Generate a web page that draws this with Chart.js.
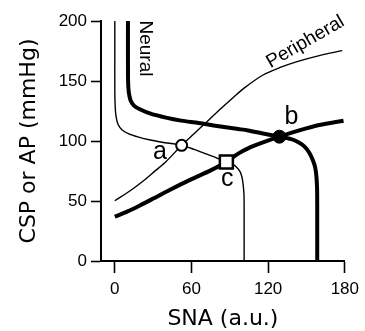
<!DOCTYPE html>
<html><head><meta charset="utf-8">
<script src="https://cdn.jsdelivr.net/npm/chart.js@4/dist/chart.umd.min.js"></script>
<style>html,body{margin:0;padding:0;background:#fff}#wrap{width:365px;height:331px}</style>
</head><body><div id="wrap"><canvas id="c" width="365" height="331"></canvas></div>
<script>
// ---- data ----
const xTicks = [0, 60, 120, 180];
const yTicks = [0, 50, 100, 150, 200];
const xTitle = 'SNA (a.u.)';
const yTitle = 'CSP or AP (mmHg)';
const curveNames = ['Neural', 'Peripheral'];

// [SNA, pressure]
const neuralThin = [[0,201],[0,170],[0,145],[0.2,132],[0.8,122],[2.5,114],[6,109],[11,106],[18,103.5],[27,101],[37,99],[52.3,96.4],[62,93],[72,89],[80,85.8],[87.3,82.5],[92.5,80.5],[95.5,78],[98,74.5],[99.5,70],[100.5,63],[101.1,55],[101.2,40],[101.2,0]];
const neuralThick = [[10.3,201],[10.3,170],[10.4,150],[10.9,141],[12.3,134],[15,129.5],[20,126.2],[28,122.8],[40,119.5],[52,117],[65.7,115],[80,112.5],[96.6,110],[104.3,108.8],[115,106.5],[128.8,103.6],[138,101.5],[144,98.8],[148.5,95.3],[152.3,90],[155,84],[156.8,78],[157.8,70],[158.3,60],[158.4,45],[158.4,0]];
const peripheralThin = [[0,50.2],[12.9,59.2],[23.2,67.5],[32,75.5],[40,82.7],[52.3,96.4],[62,106],[71.5,115.5],[82,126],[92.9,136.5],[101.7,144.5],[116,155],[130,161.5],[142,166],[160,171.2],[178,175.3]];
const peripheralThick = [[0,36.9],[10,41.3],[20,46.5],[30,52],[42.5,59],[59.3,67.8],[75,75.5],[87.3,82.5],[96.6,89.5],[104.3,93.9],[116,98.8],[128.8,103.6],[145,109],[160,113.3],[179,116.9]];

// equilibrium points a, b, c
const eqLabels = ['a', 'b', 'c'];
const eqSNA = [52.3, 128.8, 87.3];
const eqPressure = [96.4, 103.6, 82.5];

// ---- chart ----
const toXY = arr => arr.map(p => ({x: p[0], y: p[1]}));
const line = (arr, w) => ({data: toXY(arr), showLine: true, borderColor: '#000', borderWidth: w,
  pointRadius: 0, tension: 0.3, fill: false});
const marker = (i, style, r, bg, bw) => ({label: eqLabels[i], data: [{x: eqSNA[i], y: eqPressure[i]}],
  showLine: false, pointStyle: style, pointRadius: r, backgroundColor: bg, borderColor: '#000', borderWidth: bw});

const labelPlugin = {
  id: 'textLabels',
  afterDatasetsDraw(chart, args, opts) {
    const {ctx, scales: {x, y}} = chart;
    ctx.save();
    ctx.fillStyle = '#000';
    ctx.textAlign = 'center';
    ctx.textBaseline = 'middle';
    for (const it of opts.items) {
      ctx.save();
      ctx.translate(x.getPixelForValue(it.x) + (it.dx || 0), y.getPixelForValue(it.y) + (it.dy || 0));
      ctx.rotate((it.rot || 0) * Math.PI / 180);
      ctx.font = it.font;
      ctx.fillText(it.text, 0, 0);
      ctx.restore();
    }
    ctx.restore();
  }
};

const tickFont = {family: '"Liberation Sans", Arial, sans-serif', size: 17};
const titleFont = {family: '"DejaVu Sans", sans-serif', size: 22, lineHeight: 1};
const letterFont = '25px "Liberation Sans", Arial, sans-serif';
const curveFont = '19px "Liberation Sans", Arial, sans-serif';

new Chart(document.getElementById('c'), {
  type: 'scatter',
  data: {datasets: [
    marker(1, 'circle', 6.5, '#000', 1),
    marker(0, 'circle', 5.5, '#fff', 2),
    marker(2, 'rect', 9.2, '#fff', 2.5),
    line(neuralThick, 4),
    line(peripheralThick, 4),
    line(neuralThin, 1.4),
    line(peripheralThin, 1.4)
  ]},
  options: {
    responsive: false, animation: false,
    layout: {padding: {top: 21, right: 17, bottom: 0, left: 0}},
    plugins: {
      legend: {display: false}, tooltip: {enabled: false},
      textLabels: {items: [
        {text: eqLabels[0], x: eqSNA[0], y: eqPressure[0], dx: -21.7, dy: 6.7, font: letterFont},
        {text: eqLabels[1], x: eqSNA[1], y: eqPressure[1], dx: 12, dy: -19.2, font: letterFont},
        {text: eqLabels[2], x: eqSNA[2], y: eqPressure[2], dx: 1, dy: 17.5, font: letterFont},
        {text: curveNames[0], x: 23.9, y: 177.1, rot: 90, font: curveFont},
        {text: curveNames[1], x: 149.1, y: 182.5, rot: -30, font: curveFont}
      ]}
    },
    scales: {
      x: {
        type: 'linear', min: -10.8, max: 180,
        afterBuildTicks: s => { s.ticks = xTicks.map(v => ({value: v})); },
        afterFit: s => { s.height = 70; },
        grid: {display: true, drawOnChartArea: false, drawTicks: true, tickLength: 12, tickWidth: 1.6, tickColor: '#000'},
        border: {display: true, color: '#000', width: 2},
        ticks: {color: '#000', font: tickFont, padding: 6, maxRotation: 0, autoSkip: false},
        title: {display: true, text: xTitle, color: '#000', font: titleFont, padding: {top: 0, bottom: 1}}
      },
      y: {
        type: 'linear', min: 0, max: 200,
        afterBuildTicks: s => { s.ticks = yTicks.map(v => ({value: v})); },
        afterFit: s => { s.width = 101; },
        grid: {display: true, drawOnChartArea: false, drawTicks: true, tickLength: 10, tickWidth: 1.6, tickColor: '#000'},
        border: {display: true, color: '#000', width: 2},
        ticks: {color: '#000', font: tickFont, padding: 4, autoSkip: false},
        title: {display: true, text: yTitle, color: '#000', font: titleFont, padding: {top: 18, bottom: 0}}
      }
    }
  },
  plugins: [labelPlugin]
});
</script>
</body></html>
